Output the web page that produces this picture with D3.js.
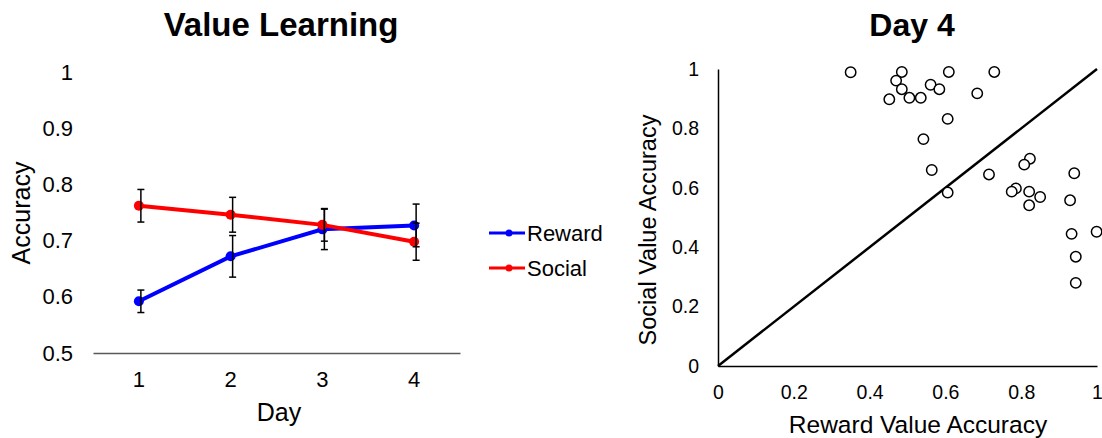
<!DOCTYPE html>
<html>
<head>
<meta charset="utf-8">
<script src="https://cdn.jsdelivr.net/npm/d3@7"></script>
<style>
  body { margin: 0; background: #fff; }
  svg { font-family: "Liberation Sans", Arial, sans-serif; }
</style>
</head>
<body>
<svg id="chart" width="1102" height="438"></svg>
<script>
// left panel data
var days = [1, 2, 3, 4];
var rewardMean = [0.592, 0.672, 0.720, 0.727];
var rewardErr = [0.020, 0.037, 0.036, 0.038];
var socialMean = [0.762, 0.746, 0.728, 0.698];
var socialErr = [0.029, 0.031, 0.029, 0.033];
var accTicks = [0.5, 0.6, 0.7, 0.8, 0.9, 1];

// right panel data (Day 4, one point per subject)
var rewardAcc = [0.350, 0.485, 0.470, 0.485, 0.452, 0.505, 0.535, 0.561, 0.584, 0.609,
  0.729, 0.684, 0.606, 0.542, 0.564, 0.606, 0.715, 0.823, 0.808, 0.940,
  0.786, 0.775, 0.821, 0.850, 0.821, 0.929, 0.933, 0.999, 0.944, 0.944];
var socialAcc = [0.989, 0.990, 0.961, 0.932, 0.898, 0.903, 0.903, 0.947, 0.932, 0.990,
  0.990, 0.918, 0.832, 0.764, 0.660, 0.584, 0.645, 0.698, 0.678, 0.649,
  0.598, 0.587, 0.587, 0.569, 0.541, 0.558, 0.445, 0.452, 0.368, 0.280];
var scatterTicks = [0, 0.2, 0.4, 0.6, 0.8, 1];

var svg = d3.select("#chart");

// ---------- left: Value Learning ----------
var x = d3.scaleBand().domain(days).range([93, 460]);
var y = d3.scaleLinear().domain([0.5, 1]).range([353, 72]);

svg.append("text").attr("x", 281).attr("y", 36).attr("text-anchor", "middle")
  .attr("font-size", 33).attr("font-weight", "bold").text("Value Learning");

var xAxis = svg.append("g").attr("transform", "translate(0,353)")
  .call(d3.axisBottom(x).tickSize(0).tickPadding(18));
xAxis.select(".domain").attr("stroke", "#595959").attr("stroke-width", 1.5);
xAxis.selectAll("text").attr("font-size", 22).attr("fill", "#000").attr("font-family", null);

var yAxis = svg.append("g").attr("transform", "translate(73,0)")
  .call(d3.axisLeft(y).tickValues(accTicks).tickSize(0).tickPadding(0).tickFormat(d3.format("")));
yAxis.select(".domain").remove();
yAxis.selectAll("text").attr("font-size", 22).attr("fill", "#000").attr("font-family", null);

svg.append("text").attr("transform", "translate(30,213) rotate(-90)").attr("text-anchor", "middle")
  .attr("font-size", 25).text("Accuracy");
svg.append("text").attr("x", 279).attr("y", 421).attr("text-anchor", "middle")
  .attr("font-size", 25).text("Day");

var series = [
  { name: "Reward", color: "#0000ff", mean: rewardMean, err: rewardErr },
  { name: "Social", color: "#ff0000", mean: socialMean, err: socialErr }
];

var cx = function(d) { return x(d) + x.bandwidth() / 2; };
var line = d3.line().x(function(d, i) { return cx(days[i]); }).y(function(d) { return y(d); });

series.forEach(function(s) {
  svg.append("path").datum(s.mean).attr("d", line).attr("fill", "none")
    .attr("stroke", s.color).attr("stroke-width", 4);
  svg.append("g").selectAll("circle").data(s.mean).join("circle")
    .attr("cx", function(d, i) { return cx(days[i]); })
    .attr("cy", function(d) { return y(d); })
    .attr("r", 5).attr("fill", s.color);
});

series.forEach(function(s) {
  var eb = svg.append("g").attr("stroke", "#000").attr("stroke-width", 1.5);
  s.mean.forEach(function(m, i) {
    var px = cx(days[i]) + 2;
    var lo = y(m - s.err[i]), hi = y(m + s.err[i]);
    eb.append("line").attr("x1", px).attr("x2", px).attr("y1", lo).attr("y2", hi);
    eb.append("line").attr("x1", px - 3.5).attr("x2", px + 3.5).attr("y1", lo).attr("y2", lo);
    eb.append("line").attr("x1", px - 3.5).attr("x2", px + 3.5).attr("y1", hi).attr("y2", hi);
  });
});

// legend
var legend = svg.append("g");
series.forEach(function(s, i) {
  var ly = 233 + i * 35;
  legend.append("line").attr("x1", 489).attr("x2", 525).attr("y1", ly).attr("y2", ly)
    .attr("stroke", s.color).attr("stroke-width", 3);
  legend.append("circle").attr("cx", 509).attr("cy", ly).attr("r", 3.5).attr("fill", s.color);
  legend.append("text").attr("x", 527).attr("y", ly + 8).attr("font-size", 22).text(s.name);
});

// ---------- right: Day 4 ----------
var sx = d3.scaleLinear().domain([0, 1]).range([718, 1097]);
var sy = d3.scaleLinear().domain([0, 1]).range([366, 69]);

svg.append("text").attr("x", 912).attr("y", 36).attr("text-anchor", "middle")
  .attr("font-size", 32).attr("font-weight", "bold").text("Day 4");

var sxAxis = svg.append("g").attr("transform", "translate(0,366)")
  .call(d3.axisBottom(sx).tickValues(scatterTicks).tickSize(0).tickPadding(19).tickFormat(d3.format("")));
sxAxis.select(".domain").attr("stroke", "#000").attr("stroke-width", 1.5);
sxAxis.selectAll("text").attr("font-size", 19.5).attr("fill", "#000").attr("font-family", null);

var syAxis = svg.append("g").attr("transform", "translate(718,0)")
  .call(d3.axisLeft(sy).tickValues(scatterTicks).tickSize(0).tickPadding(19).tickFormat(d3.format("")));
syAxis.select(".domain").attr("stroke", "#000").attr("stroke-width", 1.5);
syAxis.selectAll("text").attr("font-size", 19.5).attr("fill", "#000").attr("font-family", null);

svg.append("text").attr("transform", "translate(656,230) rotate(-90)").attr("text-anchor", "middle")
  .attr("font-size", 23.5).text("Social Value Accuracy");
svg.append("text").attr("x", 918).attr("y", 433).attr("text-anchor", "middle")
  .attr("font-size", 24.5).text("Reward Value Accuracy");

svg.append("line").attr("x1", sx(0)).attr("y1", sy(0)).attr("x2", sx(1)).attr("y2", sy(1))
  .attr("stroke", "#000").attr("stroke-width", 2.5);

svg.append("g").selectAll("circle").data(rewardAcc).join("circle")
  .attr("cx", function(d) { return sx(d); })
  .attr("cy", function(d, i) { return sy(socialAcc[i]); })
  .attr("r", 5.2).attr("fill", "#fff").attr("stroke", "#000").attr("stroke-width", 1.5);
</script>
</body>
</html>
